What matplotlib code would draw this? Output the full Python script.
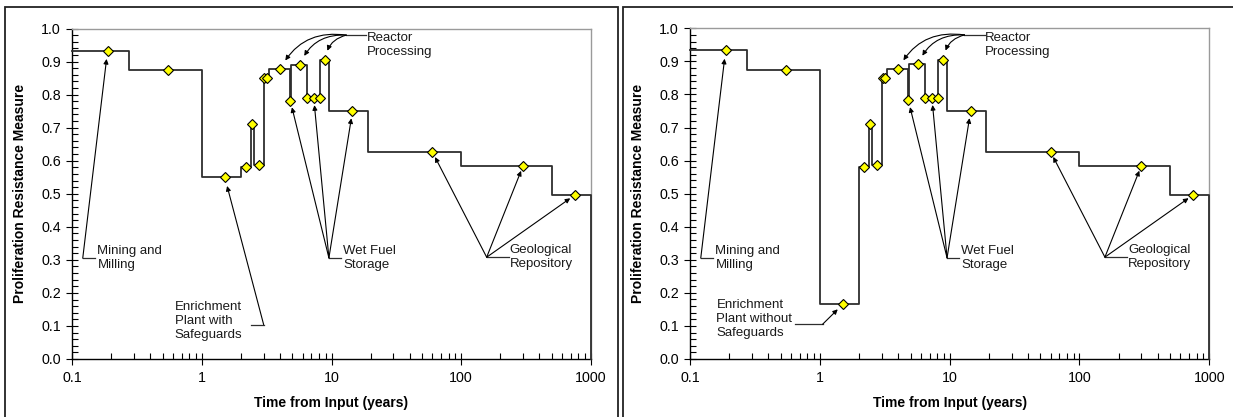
import numpy as np
import matplotlib
matplotlib.use("Agg")
import matplotlib.pyplot as plt
from matplotlib.ticker import MultipleLocator, LogLocator, NullFormatter, FixedLocator, FixedFormatter
from matplotlib.patches import Rectangle

plt.rcParams['font.family'] = ['Liberation Sans', 'DejaVu Sans']

# ---------------- data ----------------
step_edges = [0.1, 0.275, 1.0, 2.0, 2.38, 2.52, 3.0, 3.28, 4.75, 4.86, 6.45, 8.2,
              9.6, 19.2, 100, 500, 1000]
levels_with = [0.933, 0.873, 0.552, 0.580, 0.710, 0.587, 0.851, 0.878, 0.782, 0.891,
               0.789, 0.904, 0.749, 0.626, 0.585, 0.496]
levels_without = [0.933, 0.873, 0.165, 0.580, 0.710, 0.587, 0.851, 0.878, 0.782, 0.891,
                  0.789, 0.904, 0.749, 0.626, 0.585, 0.496]

marker_x = [0.188, 0.545, 1.5, 2.18, 2.43, 2.75, 3.04, 3.2, 4.03, 4.81, 5.7, 6.5, 7.3,
            8.1, 8.95, 14.5, 60, 300, 750]
marker_y_with = [0.933, 0.873, 0.552, 0.580, 0.710, 0.587, 0.851, 0.851, 0.878, 0.782,
                 0.891, 0.789, 0.789, 0.789, 0.904, 0.749, 0.626, 0.585, 0.496]
marker_y_without = [0.933, 0.873, 0.165, 0.580, 0.710, 0.587, 0.851, 0.851, 0.878, 0.782,
                    0.891, 0.789, 0.789, 0.789, 0.904, 0.749, 0.626, 0.585, 0.496]

x_ticks = [0.1, 1, 10, 100, 1000]
x_tick_labels = ['0.1', '1', '10', '100', '1000']
y_ticks = [0.0, 0.1, 0.2, 0.3, 0.4, 0.5, 0.6, 0.7, 0.8, 0.9, 1.0]
y_tick_labels = ['0.0', '0.1', '0.2', '0.3', '0.4', '0.5', '0.6', '0.7', '0.8', '0.9', '1.0']

x_label = 'Time from Input (years)'
y_label = 'Proliferation Resistance Measure'

# annotation groups: label, marker indices
ann_mining = ('Mining and\nMilling', [0])
ann_reactor = ('Reactor\nProcessing', [8, 10, 14])
ann_wet = ('Wet Fuel\nStorage', [9, 12, 15])
ann_geo = ('Geological\nRepository', [16, 17, 18])
enr_with_label = 'Enrichment\nPlant with\nSafeguards'
enr_without_label = 'Enrichment\nPlant without\nSafeguards'

# ---------------- figure ----------------
W, H = 1233, 417
fig = plt.figure(figsize=(W / 100, H / 100), dpi=100)
fig.patch.set_facecolor('white')

axL = fig.add_axes([72 / W, 1 - 359 / H, 519 / W, 330.5 / H])
axR = fig.add_axes([690 / W, 1 - 359 / H, 519.3 / W, 330.7 / H])

LINE_C = '#2e2e2e'
FS = 9.5
arrow_kw = dict(arrowstyle='-|>', color='black', lw=0.8, shrinkA=0, shrinkB=5,
                mutation_scale=7)


def leader(ax, tail, end, text_x, text_y, label):
    ax.plot([tail[0], end], [tail[1], tail[1]], color=LINE_C, lw=0.9, clip_on=False)
    ax.text(text_x, text_y, label, fontsize=FS, ha='left', va='center',
            linespacing=1.2, color='#1a1a1a')


def draw_panel(ax, levels, my, enr_label, enr_cfg):
    xs = np.repeat(step_edges, 2)[1:-1]
    ys = np.repeat(levels, 2)
    xs = np.append(xs, step_edges[-1])
    ys = np.append(ys, 0.0)
    ax.plot(xs, ys, color=LINE_C, lw=1.3, clip_on=False, zorder=3)
    ax.plot(marker_x, my, linestyle='none', marker='D', markersize=5.2,
            markerfacecolor='#ffff00', markeredgecolor='black', markeredgewidth=0.8,
            zorder=5, clip_on=False)

    ax.set_xscale('log')
    ax.set_xlim(0.1, 1000)
    ax.set_ylim(0, 1)
    ax.xaxis.set_major_locator(FixedLocator(x_ticks))
    ax.xaxis.set_major_formatter(FixedFormatter(x_tick_labels))
    ax.xaxis.set_minor_locator(LogLocator(base=10, subs=np.arange(2, 10)))
    ax.xaxis.set_minor_formatter(NullFormatter())
    ax.yaxis.set_major_locator(FixedLocator(y_ticks))
    ax.yaxis.set_major_formatter(FixedFormatter(y_tick_labels))
    ax.yaxis.set_minor_locator(MultipleLocator(0.02))

    ax.tick_params(axis='both', which='major', direction='inout', length=8, width=0.8,
                   labelsize=FS + 0.8, colors='black')
    ax.tick_params(axis='x', which='major', pad=5)
    ax.tick_params(axis='y', which='major', pad=4)
    ax.tick_params(axis='both', which='minor', direction='in', length=4, width=0.8)

    for s in ['top', 'right']:
        ax.spines[s].set_color('#9a9a9a')
        ax.spines[s].set_linewidth(1.0)
    for s in ['left', 'bottom']:
        ax.spines[s].set_color('black')
        ax.spines[s].set_linewidth(1.0)

    ax.set_xlabel(x_label, fontsize=FS + 0.5, fontweight='bold', va='center')
    ax.xaxis.set_label_coords(0.5, -0.133)
    ax.set_ylabel(y_label, fontsize=FS + 0.5, fontweight='bold', va='center')
    ax.yaxis.set_label_coords(-0.100, 0.5)

    def arrows(tail, idxs, curved=False, shrink=5):
        for i in idxs:
            kw = dict(arrow_kw)
            kw['shrinkB'] = shrink
            if curved:
                kw['connectionstyle'] = 'arc3,rad=0.35'
            ax.annotate('', xy=(marker_x[i], my[i]), xytext=tail, arrowprops=kw,
                        annotation_clip=False)

    # Mining and Milling
    tail = (0.121, 0.305)
    leader(ax, tail, 0.150, 0.157, 0.305, ann_mining[0])
    arrows(tail, ann_mining[1], shrink=6)

    # Reactor processing
    tail = (13.0, 0.980)
    leader(ax, tail, 18.6, 18.8, 0.950, ann_reactor[0])
    arrows(tail, ann_reactor[1], curved=True, shrink=7)

    # Wet fuel storage
    tail = (9.55, 0.306)
    leader(ax, tail, 11.8, 12.3, 0.306, ann_wet[0])
    arrows(tail, ann_wet[1], shrink=5)

    # Geological repository
    tail = (157, 0.308)
    leader(ax, tail, 232, 236, 0.308, ann_geo[0])
    arrows(tail, ann_geo[1], shrink=4)

    # Enrichment
    tail, end, tx, ty, shr = enr_cfg
    leader(ax, tail, end, tx, ty, enr_label)
    arrows(tail, [2], shrink=shr)


draw_panel(axL, levels_with, marker_y_with, enr_with_label,
           ((3.0, 0.104), 2.38, 0.62, 0.115, 7))
draw_panel(axR, levels_without, marker_y_without, enr_without_label,
           ((1.05, 0.105), 0.645, 0.16, 0.121, 5))

# panel frames
fig.add_artist(Rectangle((5.3 / W, -0.05), (617.7 - 5.3) / W, 1.05 - 6.7 / H,
                         transform=fig.transFigure, fill=False, edgecolor='#222222',
                         lw=1.3))
fig.add_artist(Rectangle((623.3 / W, -0.05), 0.5, 1.05 - 6.7 / H,
                         transform=fig.transFigure, fill=False, edgecolor='#222222',
                         lw=1.3))

fig.savefig('out.png', dpi=100)
